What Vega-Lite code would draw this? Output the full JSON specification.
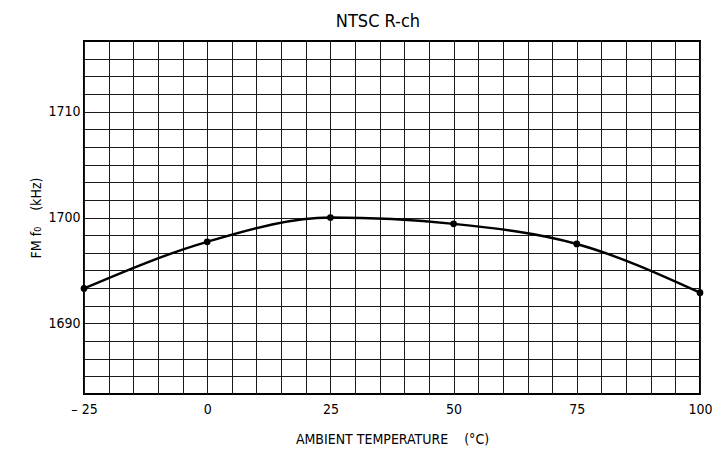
{
  "$schema": "https://vega.github.io/schema/vega-lite/v6.json",
  "width": 616,
  "height": 353,
  "autosize": "none",
  "padding": {"left": 84, "top": 41, "right": 16, "bottom": 56},
  "background": "white",
  "title": {
    "text": "NTSC R-ch",
    "fontSize": 18,
    "font": "DejaVu Sans Condensed, Liberation Sans Narrow, sans-serif",
    "fontWeight": "normal",
    "color": "black",
    "offset": 10,
    "dx": -14
  },
  "config": {
    "view": {"stroke": "black", "strokeWidth": 2},
    "axis": {
      "labelFont": "DejaVu Sans Condensed, Liberation Sans Narrow, sans-serif",
      "titleFont": "DejaVu Sans Condensed, Liberation Sans Narrow, sans-serif",
      "labelFontSize": 14,
      "titleFontSize": 14,
      "labelColor": "black",
      "titleColor": "black",
      "titleFontWeight": "normal",
      "ticks": false,
      "domain": false,
      "gridColor": "#1a1a1a",
      "gridOpacity": 1,
      "gridWidth": 1
    }
  },
  "data": {
    "values": [
      {"t": -25, "f": 1693.3},
      {"t": 0, "f": 1697.7},
      {"t": 25, "f": 1700.0},
      {"t": 50, "f": 1699.4},
      {"t": 75, "f": 1697.5},
      {"t": 100, "f": 1692.9}
    ]
  },
  "encoding": {
    "x": {
      "field": "t",
      "type": "quantitative",
      "scale": {"domain": [-25, 100], "nice": false, "zero": false},
      "axis": {
        "title": "AMBIENT TEMPERATURE\u00a0\u00a0\u00a0\u00a0(°C)",
        "titlePadding": 16,
        "labelPadding": 8,
        "values": [-25, -20, -15, -10, -5, 0, 5, 10, 15, 20, 25, 30, 35, 40, 45, 50, 55, 60, 65, 70, 75, 80, 85, 90, 95, 100],
        "labelExpr": "datum.value % 25 == 0 ? (datum.value < 0 ? '– ' + abs(datum.value) : '' + datum.value) : ''",
        "labelFlush": false
      }
    },
    "y": {
      "field": "f",
      "type": "quantitative",
      "scale": {"domain": [1683.3333, 1716.6667], "nice": false, "zero": false},
      "axis": {
        "title": "FM f₀\u00a0\u00a0\u00a0\u00a0(kHz)",
        "titlePadding": 4,
        "labelPadding": 4,
        "values": [1685, 1686.6667, 1688.3333, 1690, 1691.6667, 1693.3333, 1695, 1696.6667, 1698.3333, 1700, 1701.6667, 1703.3333, 1705, 1706.6667, 1708.3333, 1710, 1711.6667, 1713.3333, 1715],
        "labelExpr": "abs(datum.value - round(datum.value/10)*10) < 0.01 ? format(datum.value, 'd') : ''"
      }
    }
  },
  "layer": [
    {
      "mark": {"type": "line", "color": "black", "strokeWidth": 2.4, "interpolate": "monotone"}
    },
    {
      "mark": {"type": "point", "filled": true, "color": "black", "size": 45, "opacity": 1}
    }
  ]
}
